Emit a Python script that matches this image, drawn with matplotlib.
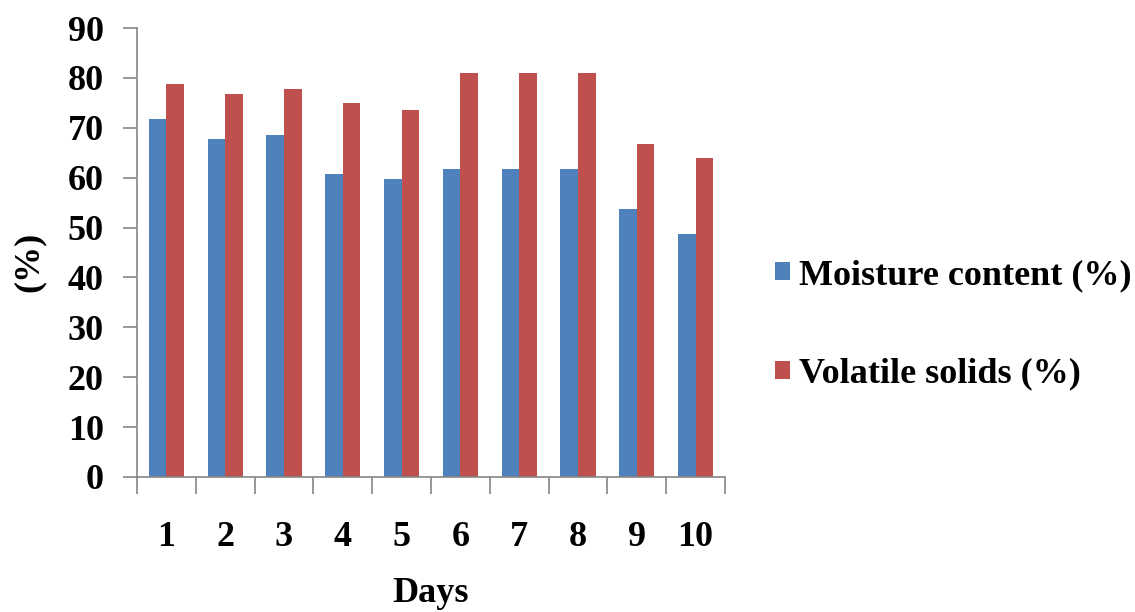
import matplotlib
matplotlib.use("Agg")
import matplotlib.pyplot as plt
import numpy as np

days = ["1", "2", "3", "4", "5", "6", "7", "8", "9", "10"]
moisture = [71.8, 67.7, 68.6, 60.8, 59.8, 61.7, 61.7, 61.7, 53.8, 48.8]
volatile = [78.7, 76.8, 77.8, 75.0, 73.6, 81.0, 81.0, 81.0, 66.7, 63.9]
y_ticks = [0, 10, 20, 30, 40, 50, 60, 70, 80, 90]

BLUE = "#4F81BD"
RED = "#C0504D"
AXIS = "#868686"
FS = 26

plt.rcParams["font.family"] = ["Liberation Serif", "DejaVu Serif"]
plt.rcParams["font.weight"] = "bold"

fig = plt.figure(figsize=(11.35, 6.12), dpi=100)
ax = fig.add_axes([0.1207, 0.2206, 0.518, 0.7336])

x = np.arange(len(days))
width = 0.3
ax.bar(x - width / 2, moisture, width, color=BLUE, label="Moisture content (%)")
ax.bar(x + width / 2, volatile, width, color=RED, label="Volatile solids (%)")

ax.set_xlim(-0.5, len(days) - 0.5)
ax.set_ylim(0, 90)
ax.set_yticks(y_ticks)
ax.set_yticklabels([str(v) for v in y_ticks], fontsize=FS, fontweight="bold")

# labels sit at the category centres, tick marks at the boundaries
ax.set_xticks(x)
ax.set_xticklabels(days, fontsize=FS, fontweight="bold")
ax.tick_params(axis="x", which="major", length=0, pad=32)
ax.set_xticks(np.arange(-0.5, len(days)), minor=True)
ax.tick_params(axis="x", which="minor", length=12, width=1.2, color=AXIS, direction="out")
ax.tick_params(axis="y", length=10, width=1.2, color=AXIS, direction="out", pad=14)

for side in ["top", "right"]:
    ax.spines[side].set_visible(False)
for side in ["left", "bottom"]:
    ax.spines[side].set_color(AXIS)
    ax.spines[side].set_linewidth(1.2)

ax.set_xlabel("Days", fontsize=FS, fontweight="bold")
ax.xaxis.set_label_coords(0.5, -0.222)
ax.set_ylabel("(%)", fontsize=FS, fontweight="bold")
ax.yaxis.set_label_coords(-0.155, 0.479)

ax.legend(loc="center left", bbox_to_anchor=(1.03, 0.339), frameon=False,
          prop={"size": FS, "weight": "bold"}, handlelength=0.4, handleheight=0.4,
          handletextpad=0.25, labelspacing=1.82)

fig.savefig("out.png", dpi=100)
